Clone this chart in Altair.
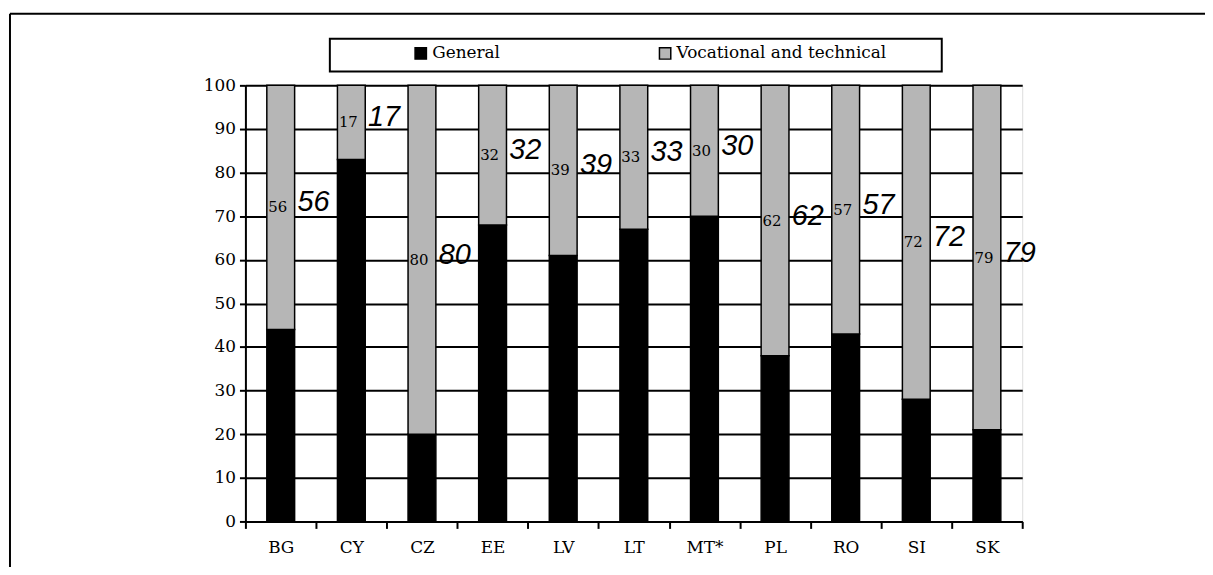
import altair as alt
import pandas as pd

countries = ["BG", "CY", "CZ", "EE", "LV", "LT", "MT*", "PL", "RO", "SI", "SK"]
general = [44, 83, 20, 68, 61, 67, 70, 38, 43, 28, 21]
vocational = [56, 17, 80, 32, 39, 33, 30, 62, 57, 72, 79]
handwritten_notes = ["56", "17", "80", "32", "39", "33", "30", "62", "57", "72", "79"]
series_names = ["General", "Vocational and technical"]
y_ticks = [0, 10, 20, 30, 40, 50, 60, 70, 80, 90, 100]

df = pd.DataFrame({
    "country": countries,
    "general": general,
    "vocational": vocational,
    "note": handwritten_notes,
})

SERIF = "DejaVu Serif"

x_enc = alt.X(
    "country:N", sort=countries, title=None,
    scale=alt.Scale(paddingInner=0, paddingOuter=0),
    axis=alt.Axis(tickBand="extent", labelAngle=0, grid=False, domainColor="black",
                  domainWidth=2, tickColor="black", tickWidth=2, tickSize=7,
                  labelPadding=11, labelFont=SERIF, labelFontSize=17, labelColor="black"),
)

y_scale = alt.Scale(domain=[0, 100], nice=False)

base = alt.Chart(df)

bars = base.transform_fold(["general", "vocational"], as_=["key", "value"]).transform_calculate(
    type=f"datum.key == 'general' ? '{series_names[0]}' : '{series_names[1]}'",
    ord="datum.key == 'general' ? 0 : 1",
).mark_bar(size=28, stroke="black", strokeWidth=1.5).encode(
    x=x_enc,
    y=alt.Y("value:Q", stack="zero", scale=y_scale, title=None,
            axis=alt.Axis(values=y_ticks, grid=True, gridColor="black", gridWidth=2,
                          gridOpacity=1, domainColor="black", domainWidth=2,
                          tickColor="black", tickWidth=2, tickSize=6, labelPadding=4,
                          labelFont=SERIF, labelFontSize=17, labelColor="black")),
    color=alt.Color("type:N",
                    scale=alt.Scale(domain=series_names, range=["#000000", "#b6b6b6"]),
                    legend=alt.Legend(orient="none", legendX=168, legendY=-41,
                                      direction="horizontal", columns=2, title=None,
                                      labelFont=SERIF, labelFontSize=17, labelColor="black",
                                      labelLimit=400,
                                      symbolType="square", symbolSize=130,
                                      symbolStrokeColor="black", symbolStrokeWidth=1.5,
                                      labelOffset=3, columnPadding=156, padding=0)),
    order=alt.Order("ord:Q"),
)

labels = base.transform_calculate(
    mid="datum.general + datum.vocational / 2"
).mark_text(font=SERIF, fontSize=15, color="black", dx=-3).encode(
    x=x_enc,
    y=alt.Y("mid:Q", scale=y_scale),
    text="vocational:Q",
)

notes = base.transform_calculate(
    mid="datum.general + datum.vocational / 2"
).mark_text(font="Liberation Sans", fontStyle="italic", fontSize=29, color="black",
            dx=33, dy=-5).encode(
    x=x_enc,
    y=alt.Y("mid:Q", scale=y_scale),
    text="note:N",
)

one = alt.Chart(pd.DataFrame({"a": [1]}))

frame_top = one.mark_rule(color="black", strokeWidth=2).encode(
    x=alt.value(-237), x2=alt.value(970), y=alt.value(-72))
frame_left = one.mark_rule(color="black", strokeWidth=2).encode(
    x=alt.value(-237), y=alt.value(-72), y2=alt.value(495))
legend_box = one.mark_rect(fill="white", stroke="black", strokeWidth=2).encode(
    x=alt.value(85), x2=alt.value(701), y=alt.value(-47), y2=alt.value(-14))

chart = alt.layer(frame_top, frame_left, legend_box, bars, labels, notes).properties(
    width=782, height=439,
    autosize=alt.AutoSizeParams(type="none"),
    padding={"left": 239, "top": 76, "right": 184, "bottom": 44},
).configure_view(stroke="black", strokeWidth=2).configure(background="white")

chart.save("out.html", embed_options={"renderer": "svg", "actions": False})
